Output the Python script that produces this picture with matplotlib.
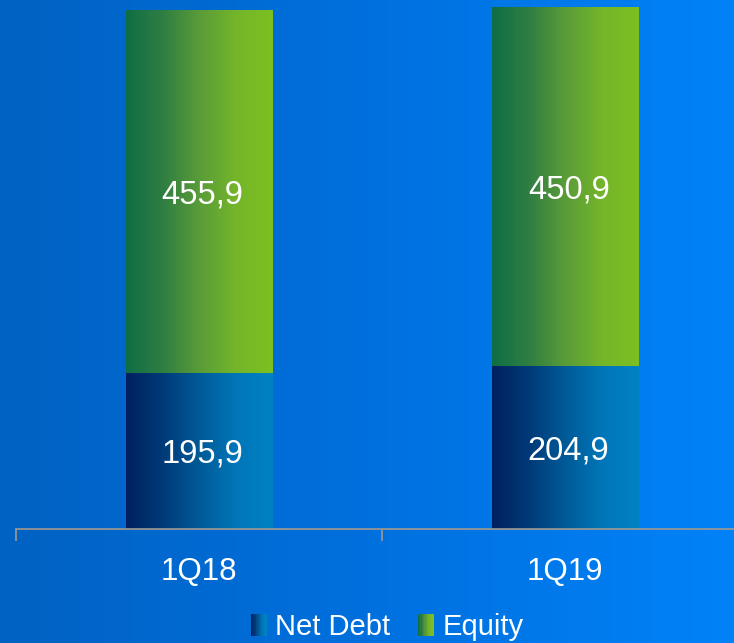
import numpy as np
import matplotlib
matplotlib.use('Agg')
import matplotlib.pyplot as plt
from matplotlib.colors import LinearSegmentedColormap
from matplotlib.patches import Rectangle
from matplotlib.legend_handler import HandlerBase

quarters = ['1Q18', '1Q19']
net_debt = [195.9, 204.9]
equity = [455.9, 450.9]
labels = ['Net Debt', 'Equity']

plt.rcParams['font.family'] = ['Liberation Sans', 'DejaVu Sans']

debt_cmap = LinearSegmentedColormap.from_list('debt', ['#002060', '#003a78', '#005a98', '#0076b8', '#0082c4'])
equity_cmap = LinearSegmentedColormap.from_list('equity', ['#0f6e45', '#2f7e42', '#5a9c38', '#74b52a', '#7cc020'])
bg_cmap = LinearSegmentedColormap.from_list('bg', ['#0062c2', '#0070de', '#0082f8'])


class GradientHandler(HandlerBase):
    def __init__(self, cmap):
        super().__init__()
        self.cmap = cmap

    def create_artists(self, legend, orig_handle, xdescent, ydescent,
                       width, height, fontsize, trans):
        n = 12
        arts = []
        for i in range(n):
            r = Rectangle((-xdescent + width * i / n, -ydescent), width / n * 1.05, height,
                          facecolor=self.cmap(i / (n - 1)), edgecolor='none', transform=trans)
            arts.append(r)
        return arts


fig = plt.figure(figsize=(7.34, 6.43), dpi=100)

# background gradient
bg = fig.add_axes([0, 0, 1, 1])
bg.imshow(np.linspace(0, 1, 256).reshape(1, -1), cmap=bg_cmap, aspect='auto', extent=[0, 1, 0, 1])
bg.axis('off')

ax = fig.add_axes([16 / 734, 114 / 643, 718 / 734, 529 / 643])
ax.patch.set_visible(False)

x = np.arange(len(quarters))
b1 = ax.bar(x, net_debt, width=0.4, color='none', edgecolor='none')
b2 = ax.bar(x, equity, bottom=net_debt, width=0.4, color='none', edgecolor='none')

grad = np.linspace(0, 1, 256).reshape(1, -1)
for bars, cmap, vals in ((b1, debt_cmap, net_debt), (b2, equity_cmap, equity)):
    for p, v in zip(bars, vals):
        x0, y0 = p.get_x(), p.get_y()
        w, h = p.get_width(), p.get_height()
        im = ax.imshow(grad, cmap=cmap, aspect='auto', extent=[x0, x0 + w, y0, y0 + h], zorder=2)
        im.set_clip_path(p)
        ax.text(x0 + w / 2 + 0.01, y0 + h / 2 - 4, f'{v:.1f}'.replace('.', ','), color='white',
                fontsize=23.5, ha='center', va='center', zorder=3)

for s in ['top', 'right', 'left']:
    ax.spines[s].set_visible(False)
ax.spines['bottom'].set_color('#a09a90')
ax.spines['bottom'].set_linewidth(1.2)
ax.set_yticks([])
ax.set_xticks(x)
ax.set_xticklabels(quarters, color='white', fontsize=22.5)
ax.tick_params(axis='x', which='major', length=0, pad=20)
ax.set_xticks([-0.5, 0.5, 1.5], minor=True)
ax.tick_params(axis='x', which='minor', length=8.6, width=1.2, color='#a09a90', direction='out')

# limits last, so the ticks do not widen them
ax.set_xlim(-0.5, -0.5 + 718 / 366)
ax.set_ylim(0, 529 / 0.796)

h1 = Rectangle((0, 0), 1, 1)
h2 = Rectangle((0, 0), 1, 1)
leg = fig.legend([h1, h2], labels, loc='center', bbox_to_anchor=(387 / 734, 1 - 627 / 643),
                 ncol=2, frameon=False, fontsize=21, handlelength=0.55, handleheight=0.8,
                 handletextpad=0.3, columnspacing=0.93,
                 handler_map={h1: GradientHandler(debt_cmap), h2: GradientHandler(equity_cmap)})
for t in leg.get_texts():
    t.set_color('white')

fig.savefig('out.png', dpi=100)
